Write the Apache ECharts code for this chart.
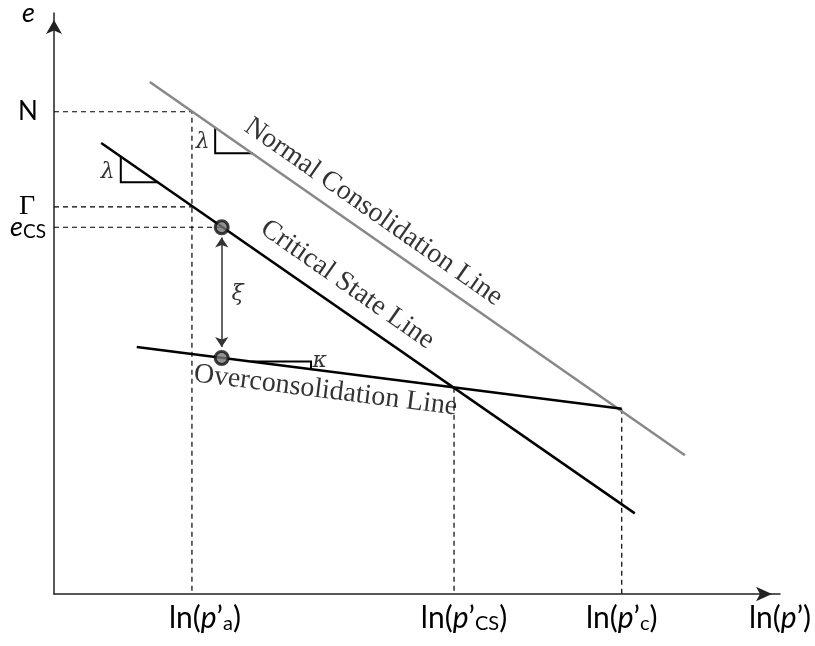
<!DOCTYPE html>
<html>
<head>
<meta charset="utf-8">
<script src="https://cdn.jsdelivr.net/npm/echarts@6/dist/echarts.min.js"></script>
<style>
  html, body { margin: 0; padding: 0; background: #fff; }
  #chart { width: 815px; height: 646px; }
</style>
</head>
<body>
<div id="chart"></div>
<script>
// State lines in the e – ln(p') plane (arbitrary units)
const nclLine = [[13.2, 70.5], [86.9, 19.1]];   // normal consolidation line
const cslLine = [[6.5, 62.1], [80.0, 11.1]];    // critical state line
const oclLine = [[11.4, 34.0], [78.2, 25.5]];   // overconsolidation line

// Current state on the OCL and its critical-state counterpart
const statePoints = [[23.1, 50.5], [23.1, 32.5]];
const xiArrow = [[23.1, 49.1], [23.1, 34.0]];

// Reference levels
const lnPa = 19.0, lnPcs = 55.1, lnPc = 78.2;
const eN = 66.4, eGamma = 53.3, eCS = 50.5, eCross = 28.4, eC = 25.5;

// Dashed guide lines
const guideLines = [
  [[0, eN], [lnPa, eN], [lnPa, 0]],
  [[0, eGamma], [lnPa, eGamma]],
  [[0, eCS], [23.1, eCS]],
  [[lnPcs, eCross], [lnPcs, 0]],
  [[lnPc, eC], [lnPc, 0]]
];

// Slope triangles (lambda on CSL and NCL, kappa on OCL)
const slopeMarks = [
  [[9.2, 60.2], [9.2, 56.7], [14.3, 56.7]],
  [[22.2, 64.2], [22.2, 60.7], [27.4, 60.7]],
  [[27.2, 32.0], [35.4, 32.0], [35.4, 30.95]]
];

// Axis marks
const xMarkValues = [lnPa, lnPcs, lnPc, 100];
const xMarkSubs = ['a', 'CS', 'c', ''];
const yMarkValues = [eCS, eN];
const yMarkLabels = ['{i|e}{s|CS}', '{n|N}'];
const yGammaValues = [eGamma];

// Line names and symbols written on the chart
const curveNames = ['Normal Consolidation Line', 'Critical State Line', 'Overconsolidation Line'];
const curveNamePos = [[44.0, 52.6], [40.4, 42.6], [37.4, 28.0]];
const curveNameAngle = [-34.9, -34.9, -7.25];
const symbolTexts = ['λ', 'λ', 'κ', 'ξ'];
const symbolPos = [[7.4, 58.0], [20.5, 62.2], [36.6, 32.0], [25.3, 41.3]];

const SANS = 'Lato';
const SERIF = 'Liberation Serif';
const GREEK = 'DejaVu Serif';
// left indent (px) of the x labels, so the subscripted ones sit right of their guide
const xLabelIndent = [26, 20, 0, 0];

function findIndex(arr, v) {
  for (let i = 0; i < arr.length; i++) if (Math.abs(arr[i] - v) < 1e-6) return i;
  return -1;
}

const labelData = [];
curveNames.forEach((t, i) => {
  labelData.push({
    value: curveNamePos[i],
    label: {
      formatter: t, rotate: curveNameAngle[i],
      fontFamily: SERIF, fontSize: 28, color: '#000', textBorderWidth: 0
    }
  });
});
symbolTexts.forEach((t, i) => {
  labelData.push({
    value: symbolPos[i],
    label: {
      formatter: t, fontFamily: GREEK, fontStyle: 'italic',
      fontSize: 22, color: '#000', textBorderWidth: 0
    }
  });
});

const yRich = {
  n: { fontFamily: SANS, fontSize: 26, color: '#000', lineHeight: 28 },
  i: { fontFamily: SANS, fontSize: 27, fontStyle: 'italic', color: '#000', lineHeight: 28 },
  g: { fontFamily: SERIF, fontSize: 28, color: '#000', lineHeight: 28 },
  s: { fontFamily: SANS, fontSize: 19, color: '#000', lineHeight: 19, verticalAlign: 'bottom' }
};

const chart = echarts.init(document.getElementById('chart'), null, { renderer: 'canvas' });

chart.setOption({
  backgroundColor: '#fff',
  animation: false,
  grid: { left: 54, top: 13, right: 35, bottom: 52, containLabel: false, outerBoundsMode: 'none' },
  xAxis: {
    type: 'value', min: 0, max: 100,
    splitLine: { show: false },
    axisTick: { show: false },
    axisLine: {
      show: true,
      lineStyle: { color: '#222', width: 1.5 },
      symbol: ['none', 'arrow'], symbolSize: [11, 16], symbolOffset: [0, -8]
    },
    axisLabel: {
      customValues: xMarkValues,
      margin: 8,
      hideOverlap: false,
      showMinLabel: true,
      showMaxLabel: true,
      formatter: function (v) {
        const i = findIndex(xMarkValues, v);
        const sub = i >= 0 ? xMarkSubs[i] : '';
        const indent = i >= 0 ? xLabelIndent[i] : 0;
        return (indent ? '{g' + indent + '| }' : '') +
          '{n|ln(}{i|p}{n|’}' + (sub ? '{s|' + sub + '}' : '') + '{n|)}';
      },
      rich: {
        n: { fontFamily: SANS, fontSize: 30, color: '#000', lineHeight: 32 },
        i: { fontFamily: SANS, fontSize: 30, fontStyle: 'italic', color: '#000', lineHeight: 32 },
        s: { fontFamily: SANS, fontSize: 20, color: '#000', lineHeight: 19, verticalAlign: 'bottom' },
        g26: { width: 26, fontSize: 10 },
        g20: { width: 20, fontSize: 10 }
      }
    }
  },
  yAxis: [
    {
      type: 'value', min: 0, max: 80, position: 'left',
      name: 'e',
      nameLocation: 'end',
      nameGap: 0,
      nameTextStyle: {
        fontFamily: SANS, fontSize: 27, fontStyle: 'italic', color: '#000',
        align: 'right', verticalAlign: 'middle', padding: [0, 19, 6, 0]
      },
      splitLine: { show: false },
      axisTick: { show: false },
      axisLine: {
        show: true,
        lineStyle: { color: '#222', width: 1.5 },
        symbol: ['none', 'arrow'], symbolSize: [12, 14], symbolOffset: [0, -7]
      },
      axisLabel: {
        customValues: yMarkValues,
        margin: 26,
        align: 'center',
        hideOverlap: false,
        showMinLabel: true,
        showMaxLabel: true,
        formatter: function (v) {
          const i = findIndex(yMarkValues, v);
          return i >= 0 ? yMarkLabels[i] : '';
        },
        rich: yRich
      }
    },
    {
      // second scale on the same side, carrying only the Gamma level
      type: 'value', min: 0, max: 80, position: 'left', offset: 0,
      splitLine: { show: false },
      axisTick: { show: false },
      axisLine: { show: false },
      axisLabel: {
        customValues: yGammaValues,
        margin: 27,
        align: 'center',
        showMinLabel: true,
        showMaxLabel: true,
        formatter: function () { return '{g|Γ}'; },
        rich: yRich
      }
    }
  ],
  series: [
    {
      name: 'guides', type: 'lines', coordinateSystem: 'cartesian2d', polyline: true,
      silent: true, z: 1,
      lineStyle: { color: '#000', width: 1.2, type: [5, 4], opacity: 1 },
      data: guideLines.map(c => ({ coords: c }))
    },
    {
      name: 'NCL', type: 'line', data: nclLine, symbol: 'none', z: 3,
      lineStyle: { color: '#888', width: 2.5 }
    },
    {
      name: 'CSL', type: 'line', data: cslLine, symbol: 'none', z: 3,
      lineStyle: { color: '#000', width: 2.5 }
    },
    {
      name: 'OCL', type: 'line', data: oclLine, symbol: 'none', z: 3,
      lineStyle: { color: '#000', width: 2.5 }
    },
    {
      name: 'slopes', type: 'lines', coordinateSystem: 'cartesian2d', polyline: true,
      silent: true, z: 3,
      lineStyle: { color: '#000', width: 2, opacity: 1 },
      data: slopeMarks.map(c => ({ coords: c }))
    },
    {
      name: 'xi', type: 'lines', coordinateSystem: 'cartesian2d',
      silent: true, z: 4,
      symbol: ['arrow', 'arrow'], symbolSize: [10, 10],
      lineStyle: { color: '#333', width: 1.5, opacity: 1 },
      data: [{ coords: xiArrow }]
    },
    {
      name: 'states', type: 'scatter', data: statePoints, z: 5,
      symbol: 'circle', symbolSize: 13,
      itemStyle: { color: '#777', borderColor: '#111', borderWidth: 3 }
    },
    {
      name: 'texts', type: 'scatter', data: labelData, z: 6,
      symbolSize: 0, silent: true,
      label: { show: true, position: 'inside' }
    }
  ]
});
</script>
</body>
</html>
